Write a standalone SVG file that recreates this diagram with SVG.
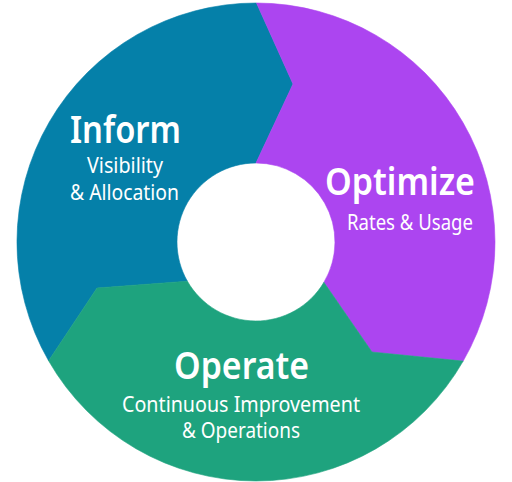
<svg xmlns="http://www.w3.org/2000/svg" width="512" height="482" viewBox="0 0 512 482">
<style>
.seg{stroke-width:0.6;stroke-linejoin:round}
.title{font-family:"Noto Sans","Open Sans","DejaVu Sans",sans-serif;font-weight:600;font-size:38px;fill:#ffffff;text-anchor:middle}
.sub{font-family:"Noto Sans","Open Sans","DejaVu Sans",sans-serif;font-weight:400;font-size:21px;fill:#ffffff;text-anchor:middle}
</style>
<rect width="512" height="482" fill="#ffffff"/>
<g id="inform">
<path class="seg" fill="#0580a9" stroke="#0580a9" d="M256.5,3 A239,239 0 0 0 48.6,360.8 L97,288 L187.4,281.2 A79,79 0 0 1 256,163 L293,84 Z"/>
<text class="title" x="125.5" y="143" textLength="111" lengthAdjust="spacingAndGlyphs">Inform</text>
<text class="sub" x="125" y="173" textLength="76" lengthAdjust="spacingAndGlyphs">Visibility</text>
<text class="sub" x="124.5" y="200" textLength="109" lengthAdjust="spacingAndGlyphs">&amp; Allocation</text>
</g>
<g id="optimize">
<path class="seg" fill="#ac45f0" stroke="#ac45f0" d="M256.5,3 A239,239 0 0 1 463.2,361.1 L372,352 L323.9,282.3 A79,79 0 0 0 256,163 L293,84 Z"/>
<text class="title" x="400" y="195" textLength="150" lengthAdjust="spacingAndGlyphs">Optimize</text>
<text class="sub" x="410" y="229.5" textLength="126" lengthAdjust="spacingAndGlyphs">Rates &amp; Usage</text>
</g>
<g id="operate">
<path class="seg" fill="#1ea37e" stroke="#1ea37e" d="M463.2,361.1 A239,239 0 0 1 48.6,360.8 L97,288 L187.4,281.2 A79,79 0 0 0 323.9,282.3 L372,352 Z"/>
<text class="title" x="241.5" y="378.5" textLength="135" lengthAdjust="spacingAndGlyphs">Operate</text>
<text class="sub" x="241" y="412" textLength="238" lengthAdjust="spacingAndGlyphs">Continuous Improvement</text>
<text class="sub" x="241" y="438" textLength="118" lengthAdjust="spacingAndGlyphs">&amp; Operations</text>
</g>
<g id="connectors"></g>
</svg>
